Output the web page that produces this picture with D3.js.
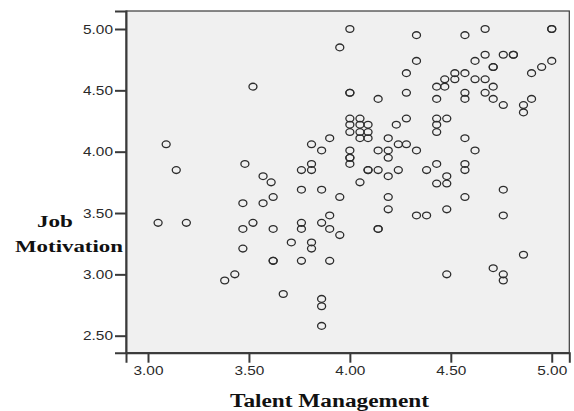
<!DOCTYPE html>
<html>
<head>
<meta charset="utf-8">
<script src="https://cdn.jsdelivr.net/npm/d3@7"></script>
<style>
  html, body { margin: 0; padding: 0; background: #ffffff; }
  svg { display: block; }
</style>
</head>
<body>
<svg id="chart" width="574" height="411"></svg>
<script>
// ---- Data ----
const talent = [
  3.52,3.09,3.14,3.48,3.57,3.61,4.00,4.33,3.95,4.33,
  4.28,4.00,4.00,4.28,4.14,4.00,4.05,4.00,4.05,4.09,
  4.00,4.05,4.09,4.05,4.09,4.23,4.28,3.90,3.81,3.86,
  4.00,4.00,4.00,4.00,4.14,4.19,4.19,4.19,4.24,4.28,
  4.33,3.76,3.81,3.81,4.09,4.09,4.14,4.19,4.24,4.05,
  4.57,4.67,5.00,5.00,4.62,4.67,4.76,4.81,4.81,4.71,
  4.71,4.90,4.95,5.00,4.43,4.47,4.47,4.52,4.52,4.57,
  4.62,4.67,4.67,4.71,4.71,4.76,4.57,4.57,4.43,4.86,
  4.86,4.90,4.43,4.43,4.43,4.48,4.57,4.62,4.43,4.38,
  4.57,4.57,4.48,4.48,4.43,4.76,4.57,4.48,4.76,4.33,
  4.38,4.86,4.48,4.71,4.76,4.76,3.76,3.86,3.62,3.95,
  4.19,4.19,3.90,3.86,3.90,3.95,3.76,3.76,3.62,4.14,
  4.14,3.71,3.81,3.81,3.62,3.62,3.76,3.90,3.67,3.86,
  3.86,3.86,3.05,3.19,3.47,3.57,3.47,3.52,3.47,3.38,
  3.43
];
const motivation = [
  4.53,4.06,3.85,3.90,3.80,3.75,5.00,4.95,4.85,4.74,
  4.64,4.48,4.48,4.48,4.43,4.27,4.27,4.22,4.22,4.22,
  4.16,4.16,4.16,4.11,4.11,4.22,4.27,4.11,4.06,4.01,
  4.01,3.95,3.95,3.90,4.01,4.11,4.01,3.95,4.06,4.06,
  4.01,3.85,3.90,3.85,3.85,3.85,3.85,3.80,3.85,3.75,
  4.95,5.00,5.00,5.00,4.74,4.79,4.79,4.79,4.79,4.69,
  4.69,4.64,4.69,4.74,4.53,4.59,4.53,4.64,4.59,4.64,
  4.59,4.59,4.48,4.53,4.43,4.38,4.48,4.43,4.43,4.38,
  4.32,4.43,4.27,4.22,4.16,4.27,4.11,4.01,3.90,3.85,
  3.90,3.85,3.80,3.74,3.74,3.69,3.63,3.53,3.48,3.48,
  3.48,3.16,3.00,3.05,3.00,2.95,3.69,3.69,3.63,3.63,
  3.63,3.53,3.48,3.42,3.37,3.32,3.42,3.37,3.37,3.37,
  3.37,3.26,3.26,3.21,3.11,3.11,3.11,3.11,2.84,2.80,
  2.74,2.58,3.42,3.42,3.58,3.58,3.37,3.42,3.21,2.95,
  3.00
];
const xTicks = [3.00, 3.50, 4.00, 4.50, 5.00];
const yTicks = [2.50, 3.00, 3.50, 4.00, 4.50, 5.00];
const xTitle = "Talent Management";
const yTitleLines = ["Job", "Motivation"];

// ---- Layout ----
const svg = d3.select("#chart");
const plot = { left: 126, right: 569.3, top: 11, bottom: 352.7 };

const x = d3.scaleLinear().domain([2.891, 5.087]).range([plot.left, plot.right]);
const y = d3.scaleLinear().domain([2.3614, 5.1467]).range([plot.bottom, plot.top]);

// plot background + frame
svg.append("rect")
  .attr("x", plot.left).attr("y", plot.top)
  .attr("width", plot.right - plot.left).attr("height", plot.bottom - plot.top)
  .attr("fill", "#f0f0f0").attr("stroke", "#3a3a3a").attr("stroke-width", 1.2);

// axes
const tickFmt = d3.format(".2f");
const xAxis = svg.append("g")
  .attr("transform", `translate(0,${plot.bottom})`)
  .call(d3.axisBottom(x).tickValues(xTicks).tickFormat(tickFmt).tickSize(10).tickPadding(3));
const yAxis = svg.append("g")
  .attr("transform", `translate(${plot.left},0)`)
  .call(d3.axisLeft(y).tickValues(yTicks).tickFormat(tickFmt).tickSize(11).tickPadding(2));

[xAxis, yAxis].forEach(g => {
  g.select(".domain").attr("stroke", "#3a3a3a").attr("stroke-width", 2);
  g.selectAll(".tick line").attr("stroke", "#3a3a3a").attr("stroke-width", 2);
  g.selectAll(".tick text")
    .attr("fill", "#2a2a2a")
    .attr("font-family", "'Liberation Sans', Arial, sans-serif")
    .attr("font-size", 13)
    .attr("textLength", 30)
    .attr("lengthAdjust", "spacingAndGlyphs");
});
xAxis.selectAll(".tick text").attr("dy", "0.71em");

// points
svg.append("g")
  .selectAll("ellipse")
  .data(talent.map((t, i) => ({ t, m: motivation[i] })))
  .join("ellipse")
  .attr("cx", d => x(d.t))
  .attr("cy", d => y(d.m))
  .attr("rx", 4)
  .attr("ry", 3.4)
  .attr("fill", "none")
  .attr("stroke", "#2c2c2c")
  .attr("stroke-width", 1.3);

// axis titles
const serif = "'Liberation Serif', 'Times New Roman', serif";
svg.append("text")
  .attr("x", 230).attr("y", 406.5)
  .attr("font-family", serif).attr("font-weight", "bold").attr("font-size", 18)
  .attr("fill", "#111")
  .attr("textLength", 199).attr("lengthAdjust", "spacingAndGlyphs")
  .text(xTitle);

svg.append("text")
  .attr("x", 37).attr("y", 227)
  .attr("font-family", serif).attr("font-weight", "bold").attr("font-size", 17)
  .attr("fill", "#111")
  .attr("textLength", 36).attr("lengthAdjust", "spacingAndGlyphs")
  .text(yTitleLines[0]);
svg.append("text")
  .attr("x", 15).attr("y", 252)
  .attr("font-family", serif).attr("font-weight", "bold").attr("font-size", 17)
  .attr("fill", "#111")
  .attr("textLength", 108).attr("lengthAdjust", "spacingAndGlyphs")
  .text(yTitleLines[1]);
</script>
</body>
</html>
